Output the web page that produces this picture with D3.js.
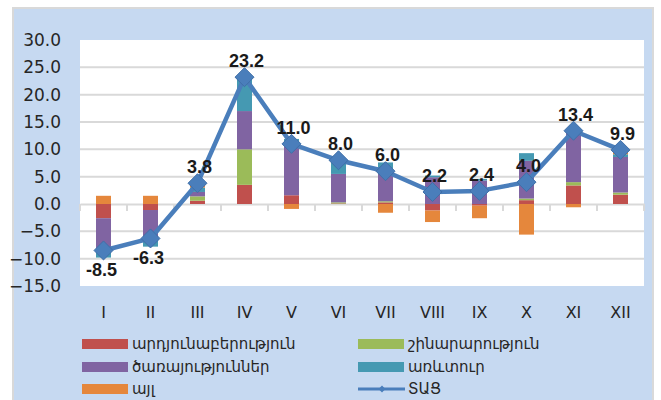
<!DOCTYPE html>
<html>
<head>
<meta charset="utf-8">
<script src="https://cdn.jsdelivr.net/npm/d3@7"></script>
<style>
  html, body { margin: 0; padding: 0; background: #fff; }
  #chart { width: 661px; height: 400px; overflow: hidden; }
</style>
</head>
<body>
<div id="chart"></div>
<script>
// Monthly contribution chart
(function () {
  ///////////////////////////////////////////////////////////// ! Data
  const months = ["I", "II", "III", "IV", "V", "VI", "VII", "VIII", "IX", "X", "XI", "XII"];

  const industry = [-2.6, -1.1, 0.6, 3.5, 1.6, 0.1, 0.3, -1.2, -0.3, 0.7, 3.4, 1.7];
  const construction = [0, 0, 0.8, 6.5, 0, 0.2, 0.2, 0, 0, 0.3, 0.6, 0.4];
  const services = [-5.6, -5.6, 0.8, 7.0, 9.4, 5.2, 5.0, 4.9, 4.3, 6.9, 9.0, 6.5];
  const trade = [-1.6, -1.1, 0.8, 6.2, 0.9, 2.5, 2.1, 0.3, 0.3, 1.4, 0.6, 0.5];
  const other = [1.5, 1.5, 0.8, 0, -0.9, 0, -1.6, -2.1, -2.3, -5.6, -0.6, 0.4];

  const total = [-8.5, -6.3, 3.8, 23.2, 11.0, 8.0, 6.0, 2.2, 2.4, 4.0, 13.4, 9.9];

  const yTicks = [30, 25, 20, 15, 10, 5, 0, -5, -10, -15];

  const seriesNames = ["արդյունաբերություն", "շինարարություն", "ծառայություններ", "առևտուր", "այլ"];
  const lineName = "ՏԱՑ";

  ///////////////////////////////////////////////////////////// ! Setup
  const W = 661, H = 400;
  const plot = { left: 80, right: 644, top: 40, bottom: 286 };
  const colors = ["#C0504D", "#9BBB59", "#8064A2", "#4599B2", "#E5873C"];
  const lineColor = "#4A7EBB";

  const svg = d3.select("#chart").append("svg")
    .attr("width", W).attr("height", H)
    .style("display", "block");

  // outer panel
  svg.append("rect")
    .attr("x", 13).attr("y", 8)
    .attr("width", 640).attr("height", 400)
    .attr("fill", "#C6D9F1")
    .attr("stroke", "#D9D9D9").attr("stroke-width", 2);

  // plot area
  svg.append("rect")
    .attr("x", plot.left).attr("y", plot.top)
    .attr("width", plot.right - plot.left).attr("height", plot.bottom - plot.top)
    .attr("fill", "#fff");

  ///////////////////////////////////////////////////////////// ! Scales
  const x = d3.scaleBand().domain(months).range([plot.left, plot.right]);
  const y = d3.scaleLinear().domain([-15, 30]).range([plot.bottom, plot.top]);
  const barW = 15;

  ///////////////////////////////////////////////////////////// ! Grid + axes
  svg.append("g")
    .selectAll("line")
    .data(yTicks.filter((d) => d !== 0 && d !== 30 && d !== -15))
    .join("line")
    .attr("x1", plot.left).attr("x2", plot.right)
    .attr("y1", (d) => y(d)).attr("y2", (d) => y(d))
    .attr("stroke", "#D9D9D9").attr("stroke-width", 2);

  const yAxis = svg.append("g")
    .attr("transform", `translate(${plot.left},0)`)
    .call(d3.axisLeft(y).tickValues(yTicks).tickFormat(d3.format(".1f")).tickSize(0).tickPadding(19));
  yAxis.select(".domain").remove();
  yAxis.selectAll("text")
    .style("font-family", "'DejaVu Sans', sans-serif")
    .style("font-size", "17px")
    .attr("fill", "#262626");

  // zero line with category ticks
  const xAxis = svg.append("g")
    .attr("transform", `translate(0,${y(0)})`)
    .call(d3.axisBottom(x).tickValues([]).tickSizeOuter(0));
  xAxis.select(".domain").attr("stroke", "#D9D9D9").attr("stroke-width", 2);
  xAxis.selectAll(".edge")
    .data(d3.range(months.length + 1))
    .join("line")
    .attr("class", "edge")
    .attr("x1", (i) => plot.left + i * x.step())
    .attr("x2", (i) => plot.left + i * x.step())
    .attr("y1", 0).attr("y2", 7)
    .attr("stroke", "#D9D9D9").attr("stroke-width", 2);

  svg.append("g")
    .selectAll("text")
    .data(months)
    .join("text")
    .attr("x", (d) => x(d) + x.bandwidth() / 2)
    .attr("y", 318)
    .attr("text-anchor", "middle")
    .style("font-family", "'DejaVu Sans', sans-serif")
    .style("font-size", "16px")
    .attr("fill", "#262626")
    .text((d) => d);

  ///////////////////////////////////////////////////////////// ! Stacked bars
  const series = [industry, construction, services, trade, other];
  const rects = [];
  months.forEach((m, i) => {
    let pos = 0, neg = 0;
    series.forEach((s, k) => {
      const v = s[i];
      if (!v) return;
      let y0, y1;
      if (v > 0) { y0 = pos; y1 = pos + v; pos = y1; }
      else { y0 = neg; y1 = neg + v; neg = y1; }
      rects.push({ m, k, y0, y1 });
    });
  });

  svg.append("g")
    .selectAll("rect")
    .data(rects)
    .join("rect")
    .attr("x", (d) => x(d.m) + x.bandwidth() / 2 - barW / 2)
    .attr("width", barW)
    .attr("y", (d) => Math.min(y(d.y0), y(d.y1)))
    .attr("height", (d) => Math.abs(y(d.y0) - y(d.y1)))
    .attr("fill", (d) => colors[d.k]);

  ///////////////////////////////////////////////////////////// ! Total line
  const cx = (i) => x(months[i]) + x.bandwidth() / 2;
  const line = d3.line().x((d, i) => cx(i)).y((d) => y(d));

  svg.append("path")
    .datum(total)
    .attr("d", line)
    .attr("fill", "none")
    .attr("stroke", lineColor)
    .attr("stroke-width", 4.5)
    .attr("stroke-linejoin", "round");

  const diamond = d3.symbol().type(d3.symbolDiamond2).size(230);
  svg.append("g")
    .selectAll("path")
    .data(total)
    .join("path")
    .attr("d", diamond)
    .attr("transform", (d, i) => `translate(${cx(i)},${y(d)})`)
    .attr("fill", lineColor)
    .attr("stroke", "#3F6FA8").attr("stroke-width", 1);

  svg.append("g")
    .selectAll("text")
    .data(total)
    .join("text")
    .attr("x", (d, i) => cx(i) + (d < 0 ? -2 : 2))
    .attr("y", (d) => y(d) + (d < 0 ? 26 : -10))
    .attr("text-anchor", "middle")
    .style("font-family", "'Liberation Sans', Arial, sans-serif")
    .style("font-size", "18px")
    .style("font-weight", "bold")
    .attr("fill", "#1a1a1a")
    .text((d) => d.toFixed(1));

  ///////////////////////////////////////////////////////////// ! Legend
  const legendItems = seriesNames.map((name, k) => ({ name, k }));
  legendItems.push({ name: lineName, k: -1 });
  const lx = [82, 358];
  const ly = [344, 367, 389];

  const lg = svg.append("g")
    .selectAll("g")
    .data(legendItems)
    .join("g")
    .attr("transform", (d, i) => `translate(${lx[i % 2]},${ly[Math.floor(i / 2)]})`);

  lg.filter((d) => d.k >= 0)
    .append("rect")
    .attr("x", 0).attr("y", -5)
    .attr("width", 46).attr("height", 10)
    .attr("fill", (d) => colors[d.k]);

  const lineItem = lg.filter((d) => d.k < 0);
  lineItem.append("line")
    .attr("x1", 0).attr("x2", 47)
    .attr("y1", 0).attr("y2", 0)
    .attr("stroke", lineColor).attr("stroke-width", 3);
  lineItem.append("path")
    .attr("d", d3.symbol().type(d3.symbolDiamond2).size(30))
    .attr("transform", "translate(24,0)")
    .attr("fill", lineColor);

  lg.append("text")
    .attr("x", 50)
    .attr("y", 0)
    .attr("dy", "0.35em")
    .style("font-family", "'DejaVu Sans', sans-serif")
    .style("font-size", "15px")
    .attr("fill", "#262626")
    .text((d) => d.name);
})();
</script>
</body>
</html>
